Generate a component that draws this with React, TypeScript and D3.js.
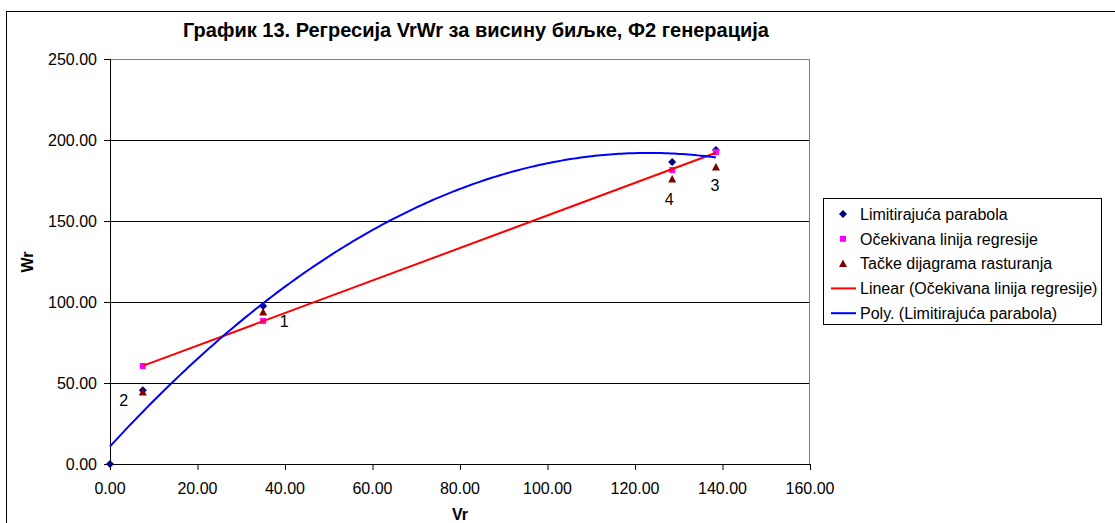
import React from "react";
import * as d3 from "d3";

// Chart data
const groups = ["2", "1", "4", "3"];
const vr = [7.5, 35.0, 128.5, 138.5];
const parabolaX = [0, 7.5, 35.0, 128.5, 138.5];
const parabolaY = [0, 45.5, 97.5, 186.4, 193.8];
const expectedY = [60.5, 88.3, 181.5, 192.6];
const scatterY = [44.5, 93.8, 176.0, 183.3];
const xTicks = [0, 20, 40, 60, 80, 100, 120, 140, 160];
const yTicks = [0, 50, 100, 150, 200, 250];
const labelOffsets: [number, number][] = [
  [-19, 14],
  [21, 15],
  [-3, 26],
  [-1, 24],
];

const title = "График 13. Регресија VrWr за висину биљке, Ф2 генерација";
const legendItems = [
  { kind: "diamond", text: "Limitirajuća parabola" },
  { kind: "square", text: "Očekivana linija regresije" },
  { kind: "triangle", text: "Tačke dijagrama rasturanja" },
  { kind: "linear", text: "Linear (Očekivana linija regresije)" },
  { kind: "poly", text: "Poly. (Limitirajuća parabola)" },
];

const FONT = "'Liberation Sans', Arial, sans-serif";
const NAVY = "#000080";
const MAGENTA = "#FF00FF";
const DARKRED = "#800000";

// least-squares linear fit
function linearFit(xs: number[], ys: number[]) {
  const n = xs.length;
  const mx = d3.mean(xs)!;
  const my = d3.mean(ys)!;
  let sxy = 0, sxx = 0;
  for (let i = 0; i < n; i++) {
    sxy += (xs[i] - mx) * (ys[i] - my);
    sxx += (xs[i] - mx) ** 2;
  }
  const b = sxy / sxx;
  return { a: my - b * mx, b };
}

// least-squares quadratic fit via normal equations
function quadFit(xs: number[], ys: number[]) {
  const s = (p: number) => d3.sum(xs, (x) => x ** p);
  const t = (p: number) => d3.sum(xs.map((x, i) => x ** p * ys[i]));
  const M = [
    [s(0), s(1), s(2), t(0)],
    [s(1), s(2), s(3), t(1)],
    [s(2), s(3), s(4), t(2)],
  ];
  for (let i = 0; i < 3; i++) {
    for (let j = i + 1; j < 3; j++) {
      const f = M[j][i] / M[i][i];
      for (let k = i; k < 4; k++) M[j][k] -= f * M[i][k];
    }
  }
  const c = [0, 0, 0];
  for (let i = 2; i >= 0; i--) {
    let v = M[i][3];
    for (let k = i + 1; k < 3; k++) v -= M[i][k] * c[k];
    c[i] = v / M[i][i];
  }
  return c;
}

// marker shapes
const diamond = "M0,-4L4,0L0,4L-4,0Z";
const square = "M-3,-3H3V3H-3Z";
const triangle = "M0,-4L4,3.5H-4Z";

export default function App() {
  const x = d3.scaleLinear().domain([0, 160]).range([110, 810]);
  const y = d3.scaleLinear().domain([0, 250]).range([464, 59]);

  const lin = linearFit(vr, expectedY);
  const linX = [d3.min(vr)!, d3.max(vr)!];
  const linePath = d3
    .line<number>()
    .x((d) => x(d))
    .y((d) => y(lin.a + lin.b * d))(linX)!;

  const q = quadFit(parabolaX, parabolaY);
  const polyXs = d3.range(0, 138.5 + 0.001, 138.5 / 200);
  const polyPath = d3
    .line<number>()
    .x((d) => x(d))
    .y((d) => y(q[0] + q[1] * d + q[2] * d * d))(polyXs)!;

  const fmt = d3.format(".2f");

  return (
    <svg
      width={1115}
      height={523}
      style={{ position: "absolute", left: 0, top: 0, background: "#fff" }}
      fontFamily={FONT}
    >
      <rect x={6.5} y={11.5} width={1200} height={600} fill="#fff" stroke="#000" />
      <text x={476} y={37} textAnchor="middle" fontSize={20} fontWeight="bold">
        {title}
      </text>

      {/* gridlines */}
      {yTicks.slice(1, -1).map((t) => (
        <line key={t} x1={110} x2={810} y1={y(t) + 0.5} y2={y(t) + 0.5} stroke="#000" />
      ))}
      <rect x={110.5} y={59.5} width={699} height={405} fill="none" stroke="#808080" />

      {/* axes */}
      <line x1={110} x2={810} y1={464.5} y2={464.5} stroke="#000" />
      <line x1={110.5} x2={110.5} y1={59} y2={464} stroke="#000" />
      {xTicks.map((t) => (
        <g key={t}>
          <line x1={x(t) + 0.5} x2={x(t) + 0.5} y1={464} y2={470} stroke="#000" />
          <text x={x(t)} y={494} textAnchor="middle" fontSize={16}>
            {fmt(t)}
          </text>
        </g>
      ))}
      {yTicks.map((t) => (
        <g key={t}>
          <line x1={104} x2={110} y1={y(t) + 0.5} y2={y(t) + 0.5} stroke="#000" />
          <text x={97} y={y(t)} dy="0.36em" textAnchor="end" fontSize={16}>
            {fmt(t)}
          </text>
        </g>
      ))}
      <text x={460} y={520} textAnchor="middle" fontSize={16} fontWeight="bold">
        Vr
      </text>
      <text
        transform="translate(33,262) rotate(-90)"
        textAnchor="middle"
        fontSize={16}
        fontWeight="bold"
      >
        Wr
      </text>

      {/* markers */}
      {parabolaX.map((v, i) => (
        <path key={"d" + i} d={diamond} transform={`translate(${x(v)},${y(parabolaY[i])})`} fill={NAVY} />
      ))}
      {vr.map((v, i) => (
        <path key={"s" + i} d={square} transform={`translate(${x(v)},${y(expectedY[i])})`} fill={MAGENTA} />
      ))}
      {vr.map((v, i) => (
        <path key={"t" + i} d={triangle} transform={`translate(${x(v)},${y(scatterY[i])})`} fill={DARKRED} />
      ))}

      {/* trendlines */}
      <path d={linePath} fill="none" stroke="#FF0000" strokeWidth={2} />
      <path d={polyPath} fill="none" stroke="#0000FF" strokeWidth={2} />

      {/* group labels */}
      {vr.map((v, i) => (
        <text
          key={"l" + i}
          x={x(v) + labelOffsets[i][0]}
          y={y(scatterY[i]) + labelOffsets[i][1]}
          textAnchor="middle"
          fontSize={16}
        >
          {groups[i]}
        </text>
      ))}

      {/* legend */}
      <rect x={823.5} y={198.5} width={278} height={126} fill="#fff" stroke="#000" />
      {legendItems.map((it, i) => {
        const cy = 214 + i * 24.8;
        let sym: React.ReactNode = null;
        if (it.kind === "diamond") sym = <path d={diamond} transform={`translate(843,${cy})`} fill={NAVY} />;
        if (it.kind === "square") sym = <path d={square} transform={`translate(843,${cy})`} fill={MAGENTA} />;
        if (it.kind === "triangle") sym = <path d={triangle} transform={`translate(843,${cy})`} fill={DARKRED} />;
        if (it.kind === "linear") sym = <line x1={831} x2={856} y1={cy} y2={cy} stroke="#FF0000" strokeWidth={2} />;
        if (it.kind === "poly") sym = <line x1={831} x2={856} y1={cy} y2={cy} stroke="#0000FF" strokeWidth={2} />;
        return (
          <g key={it.text}>
            {sym}
            <text x={860} y={cy} dy="0.36em" fontSize={16}>
              {it.text}
            </text>
          </g>
        );
      })}
    </svg>
  );
}
